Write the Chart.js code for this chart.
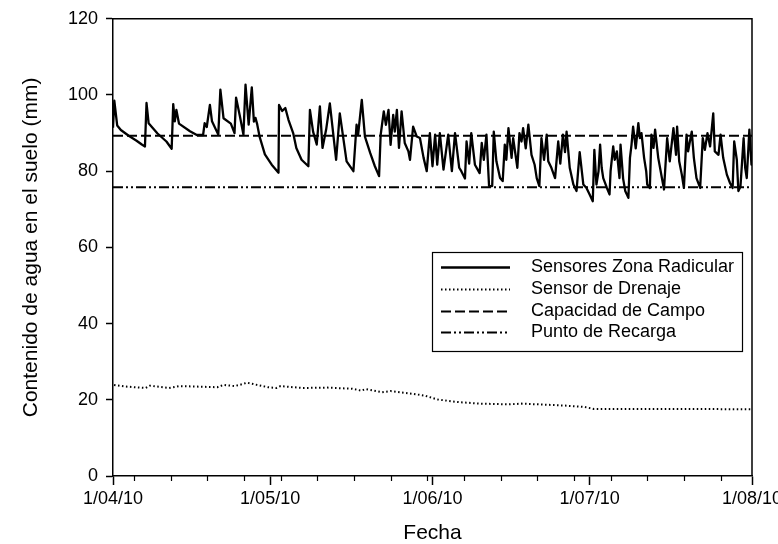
<!DOCTYPE html>
<html><head><meta charset="utf-8">
<script src="https://cdn.jsdelivr.net/npm/chart.js@4"></script>
<style>html,body{margin:0;padding:0;background:#fff}#wrap{width:778px;height:544px}</style>
</head><body><div id="wrap"><canvas id="c" width="778" height="544"></canvas></div>
<script>
// Days since 1/04/10 and soil water content (mm)
const rootDays = [0,0.25,0.8,1.5,3.0,4.5,5.5,6.1,6.4,6.8,8.5,10.2,11.2,11.5,11.8,12.1,12.6,14.7,16.0,17.2,17.5,17.9,18.5,18.9,20.1,20.5,21.1,22.5,23.2,23.5,24.2,24.9,25.3,25.9,26.5,26.9,27.2,27.5,28.0,29.0,30.3,31.6,31.7,32.3,32.9,33.5,34.4,35.0,36.0,37.3,
37.6,38.2,38.9,39.5,40.0,40.7,41.4,42.6,43.3,44.6,45.9,46.5,46.8,47.5,48.1,49.1,50.0,50.8,51.1,51.7,52.1,52.6,53.0,53.5,53.8,54.2,54.6,55.1,55.7,56.4,56.7,57.3,58.0,58.6,59.3,59.9,60.5,61.0,61.5,61.9,62.4,63.1,64.0,64.7,65.3,66.1,
66.5,67.2,67.5,68.0,68.4,69.1,70.0,70.4,70.8,71.3,71.8,72.4,72.7,73.2,73.9,74.4,74.8,75.1,75.5,76.1,76.4,77.2,77.6,78.0,78.3,78.8,79.3,79.9,80.5,80.9,81.4,81.8,82.3,82.8,83.1,83.7,84.4,85.0,85.4,85.9,86.3,86.6,87.2,87.9,88.5,88.8,89.1,89.8,90.4,91.0,91.6,
91.9,92.3,92.7,93.0,93.3,93.6,94.3,94.8,95.0,95.5,95.8,96.2,96.7,96.9,97.4,97.8,98.4,98.7,99.0,99.3,99.8,100.3,100.6,100.9,101.4,101.8,102.0,102.5,102.8,103.2,103.5,104.1,104.8,105.2,105.8,106.3,107.0,107.5,107.7,108.1,108.6,109.0,109.5,109.8,110.5,110.9,111.4,112.1,112.6,113.0,113.5,114.0,114.6,114.9,115.6,116.0,116.5,117.2,117.8,118.3,118.6,119.1,119.4,119.8,120.4,120.7,121.0,121.5,121.9,122.0];
const rootValues = [91.4,98.5,92.0,90.8,89.3,88.0,87.0,86.5,97.9,92.6,89.9,87.8,85.9,97.6,93.1,96.1,92.5,90.5,89.5,89.5,92.6,91.6,97.4,93.1,89.6,101.4,93.9,92.5,90.0,99.3,94.6,89.6,102.7,92.2,102.0,93.0,94.0,92.5,89.0,84.4,81.7,79.6,97.4,95.8,96.6,93.5,90.0,86.1,83.0,81.3,
96.1,90.4,87.0,97.0,86.1,91.0,97.8,83.0,95.2,82.6,80.0,92.2,89.6,98.7,89.1,84.8,81.3,78.7,89.5,95.7,92.2,96.1,86.9,94.8,90.4,96.1,86.1,95.7,87.4,85.2,83.0,91.7,89.1,88.7,83.5,80.0,90.0,81.3,89.6,81.7,90.0,80.4,89.6,80.0,90.0,80.9,
80.0,78.1,87.8,82.0,90.0,81.7,79.5,87.4,83.0,89.6,76.1,76.1,90.4,82.6,78.2,77.4,87.0,83.0,91.3,83.5,88.7,80.9,90.0,87.8,91.3,86.0,92.2,84.3,81.7,78.2,76.1,88.7,83.0,89.6,82.6,80.9,78.2,87.8,82.0,89.6,85.0,90.4,80.9,76.5,74.8,80.0,85.0,76.5,75.6,73.9,72.1,
85.6,76.5,80.0,87.0,80.9,78.2,75.6,73.9,80.0,86.5,83.0,85.2,78.2,87.0,78.0,74.8,73.0,83.5,87.0,91.7,86.0,92.6,88.7,90.0,83.5,80.0,76.5,75.6,89.6,86.1,90.9,83.5,78.2,75.2,88.7,82.6,91.3,84.3,91.7,82.6,79.1,75.6,89.6,85.2,90.4,83.5,78.2,75.6,88.7,85.6,90.0,86.5,95.2,85.2,84.3,89.6,83.5,79.1,76.9,75.6,87.8,83.0,74.8,76.0,88.7,80.9,78.2,90.9,81.7,85.2];
const drainDays = [0.2,2.2,6.2,7.0,10.7,12.7,19.9,21.1,23.2,24.4,25.6,27.2,29.6,31.2,32.0,36.1,40.9,45.7,47.4,48.2,51.4,53.0,57.0,59.5,61.9,65.9,70.0,75.6,78.0,86.1,90.1,91.8,102.2,110.4,122];
const drainValues = [23.9,23.5,23.1,23.7,23.1,23.6,23.3,23.9,23.6,24.0,24.5,24.0,23.3,23.1,23.6,23.1,23.2,22.9,22.4,22.8,22.0,22.3,21.6,21.1,20.1,19.4,19.0,18.8,19.0,18.5,18.1,17.6,17.6,17.6,17.5];
const fieldCapacity = 89.3;
const rechargePoint = 75.8;
const xRange = [0, 122];
const xTickDays = [0, 30, 61, 91, 122];
const xTickLabels = ['1/04/10', '1/05/10', '1/06/10', '1/07/10', '1/08/10'];
const xMinorDays = [4, 11, 18, 25, 32, 39, 46, 53, 60, 67, 74, 81, 88, 95, 102, 109, 116];
const yTicks = [0, 20, 40, 60, 80, 100, 120];
const seriesNames = ['Sensores Zona Radicular', 'Sensor de Drenaje', 'Capacidad de Campo', 'Punto de Recarga'];

const FONT = "'Liberation Sans', Arial, sans-serif";
const pts = (xs, ys) => xs.map((x, i) => ({x: x, y: ys[i]}));

const styles = [
  {borderWidth: 2.3, borderDash: []},
  {borderWidth: 2, borderDash: [1.5, 2.5]},
  {borderWidth: 2, borderDash: [10, 4]},
  {borderWidth: 2, borderDash: [10, 3, 2, 3, 2, 3]}
];

const frameAndLegend = {
  id: 'frameAndLegend',
  afterDraw(chart) {
    const ctx = chart.ctx, a = chart.chartArea, xs = chart.scales.x;
    ctx.save();
    ctx.strokeStyle = '#000';
    ctx.lineWidth = 1.5;
    ctx.setLineDash([]);
    ctx.beginPath();
    ctx.moveTo(a.left, a.top); ctx.lineTo(a.right, a.top); ctx.lineTo(a.right, a.bottom);
    ctx.stroke();
    // minor ticks
    ctx.lineWidth = 1.2;
    xMinorDays.forEach(d => {
      const px = Math.round(xs.getPixelForValue(d)) + 0.5;
      ctx.beginPath(); ctx.moveTo(px, a.bottom); ctx.lineTo(px, a.bottom + 5); ctx.stroke();
    });
    // legend
    const bx = 432, by = 252, bw = 310, bh = 99;
    ctx.fillStyle = '#fff';
    ctx.fillRect(bx, by, bw, bh);
    ctx.lineWidth = 1.2;
    ctx.strokeRect(bx + 0.5, by + 0.5, bw, bh);
    ctx.font = '18px ' + FONT;
    ctx.textBaseline = 'middle';
    ctx.textAlign = 'left';
    ctx.fillStyle = '#000';
    seriesNames.forEach((name, i) => {
      const y = 267 + i * 21.8;
      ctx.lineWidth = styles[i].borderWidth;
      ctx.setLineDash(styles[i].borderDash);
      ctx.beginPath(); ctx.moveTo(441, Math.round(y) + 0.5); ctx.lineTo(510, Math.round(y) + 0.5); ctx.stroke();
      ctx.setLineDash([]);
      ctx.fillText(name, 531, y);
    });
    ctx.restore();
  }
};

new Chart(document.getElementById('c'), {
  type: 'line',
  data: {
    datasets: [
      {label: seriesNames[0], data: pts(rootDays, rootValues), borderColor: '#000', borderWidth: styles[0].borderWidth, borderJoinStyle: 'round', pointRadius: 0, tension: 0, fill: false},
      {label: seriesNames[1], data: pts(drainDays, drainValues), borderColor: '#000', borderWidth: styles[1].borderWidth, borderDash: styles[1].borderDash, pointRadius: 0, tension: 0, fill: false},
      {label: seriesNames[2], data: pts(xRange, [fieldCapacity, fieldCapacity]), borderColor: '#000', borderWidth: styles[2].borderWidth, borderDash: styles[2].borderDash, pointRadius: 0, fill: false},
      {label: seriesNames[3], data: pts(xRange, [rechargePoint, rechargePoint]), borderColor: '#000', borderWidth: styles[3].borderWidth, borderDash: styles[3].borderDash, pointRadius: 0, fill: false}
    ]
  },
  options: {
    responsive: false,
    animation: false,
    devicePixelRatio: 1,
    layout: {padding: {top: 17, right: 26, bottom: 0, left: 0}},
    plugins: {legend: {display: false}, tooltip: {enabled: false}},
    scales: {
      x: {
        type: 'linear', position: 'bottom', min: xRange[0], max: xRange[1],
        afterBuildTicks: s => { s.ticks = xTickDays.map(v => ({value: v})); },
        afterFit: s => { s.height = 68; s.paddingLeft = 0; s.paddingRight = 0; },
        ticks: {autoSkip: false, maxRotation: 0, padding: 3, color: '#000', font: {family: FONT, size: 18},
          callback: v => xTickLabels[xTickDays.indexOf(v)]},
        grid: {drawOnChartArea: false, drawTicks: true, tickLength: 9, tickColor: '#000', tickWidth: 1.5},
        border: {display: true, color: '#000', width: 1.5},
        title: {display: true, text: 'Fecha', color: '#000', font: {family: FONT, size: 21, lineHeight: 1}, padding: 0}
      },
      y: {
        type: 'linear', min: 0, max: 120,
        afterBuildTicks: s => { s.ticks = yTicks.map(v => ({value: v})); },
        afterFit: s => { s.width = 113; },
        ticks: {padding: 8, color: '#000', font: {family: FONT, size: 18}},
        grid: {drawOnChartArea: false, drawTicks: true, tickLength: 7, tickColor: '#000', tickWidth: 1.5},
        border: {display: true, color: '#000', width: 1.5},
        title: {display: true, text: 'Contenido de agua en el suelo (mm)', color: '#000', font: {family: FONT, size: 21, lineHeight: 1}, padding: {top: 21, bottom: 0}}
      }
    }
  },
  plugins: [frameAndLegend]
});
</script></body></html>
